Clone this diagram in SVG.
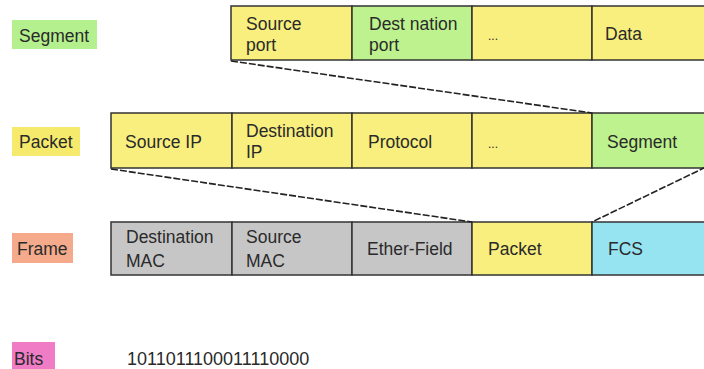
<svg xmlns="http://www.w3.org/2000/svg" width="704" height="369" viewBox="0 0 704 369">
<style>
text{font-family:"Liberation Sans",Arial,sans-serif;font-size:17.5px;fill:#2a2a2a}
.c{stroke:#333;stroke-width:1.5}
.y{fill:#f8ef7e}
.g{fill:#bdf28e}
.gr{fill:#c6c6c6}
.b{fill:#96e4f2}
.d{fill:none;stroke:#222;stroke-width:1.6;stroke-dasharray:7 2}
</style>
<rect width="704" height="369" fill="#fff"/>
<g id="label-segment"><rect x="12" y="20" width="85" height="29" fill="#b4f08e"/><text x="19" y="42">Segment</text></g>
<g id="label-packet"><rect x="12" y="127" width="68" height="29" fill="#f6ea6c"/><text x="19" y="148">Packet</text></g>
<g id="label-frame"><rect x="12" y="233" width="61" height="30" fill="#f5aa8c"/><text x="17" y="255">Frame</text></g>
<g id="label-bits"><rect x="12" y="342" width="43" height="27" fill="#f07cc6"/><text x="14" y="365">Bits</text></g>

<g id="segment-row">
<rect class="c y" x="231" y="6" width="121" height="54"/>
<rect class="c g" x="352" y="6" width="120" height="54"/>
<rect class="c y" x="472" y="6" width="120" height="54"/>
<rect class="c y" x="592" y="6" width="130" height="54"/>
<text x="246" y="30">Source</text><text x="246" y="51">port</text>
<text x="369" y="30">Dest nation</text><text x="369" y="51">port</text>
<text x="488" y="40" style="font-size:12px">...</text>
<text x="605" y="40">Data</text>
</g>

<g id="packet-row">
<rect class="c y" x="111" y="113" width="121" height="55"/>
<rect class="c y" x="232" y="113" width="120" height="55"/>
<rect class="c y" x="352" y="113" width="120" height="55"/>
<rect class="c y" x="472" y="113" width="120" height="55"/>
<rect class="c g" x="592" y="113" width="130" height="55"/>
<text x="125" y="148">Source IP</text>
<text x="246" y="137">Destination</text><text x="246" y="158">IP</text>
<text x="368" y="148">Protocol</text>
<text x="488" y="148" style="font-size:12px">...</text>
<text x="607" y="148">Segment</text>
</g>

<g id="frame-row">
<rect class="c gr" x="111" y="222" width="121" height="53"/>
<rect class="c gr" x="232" y="222" width="120" height="53"/>
<rect class="c gr" x="352" y="222" width="120" height="53"/>
<rect class="c y" x="472" y="222" width="120" height="53"/>
<rect class="c b" x="592" y="222" width="130" height="53"/>
<text x="126" y="243">Destination</text><text x="126" y="267">MAC</text>
<text x="246" y="243">Source</text><text x="246" y="267">MAC</text>
<text x="367" y="255">Ether-Field</text>
<text x="488" y="255">Packet</text>
<text x="608" y="255">FCS</text>
</g>

<g id="bits"><text x="127" y="365" style="font-size:18px">1011011100011110000</text></g>

<g id="connectors">
<line class="d" x1="231" y1="61" x2="592" y2="113"/>
<line class="d" x1="111" y1="169" x2="472" y2="222"/>
<line class="d" x1="706" y1="167" x2="592" y2="222"/>
</g>
</svg>
